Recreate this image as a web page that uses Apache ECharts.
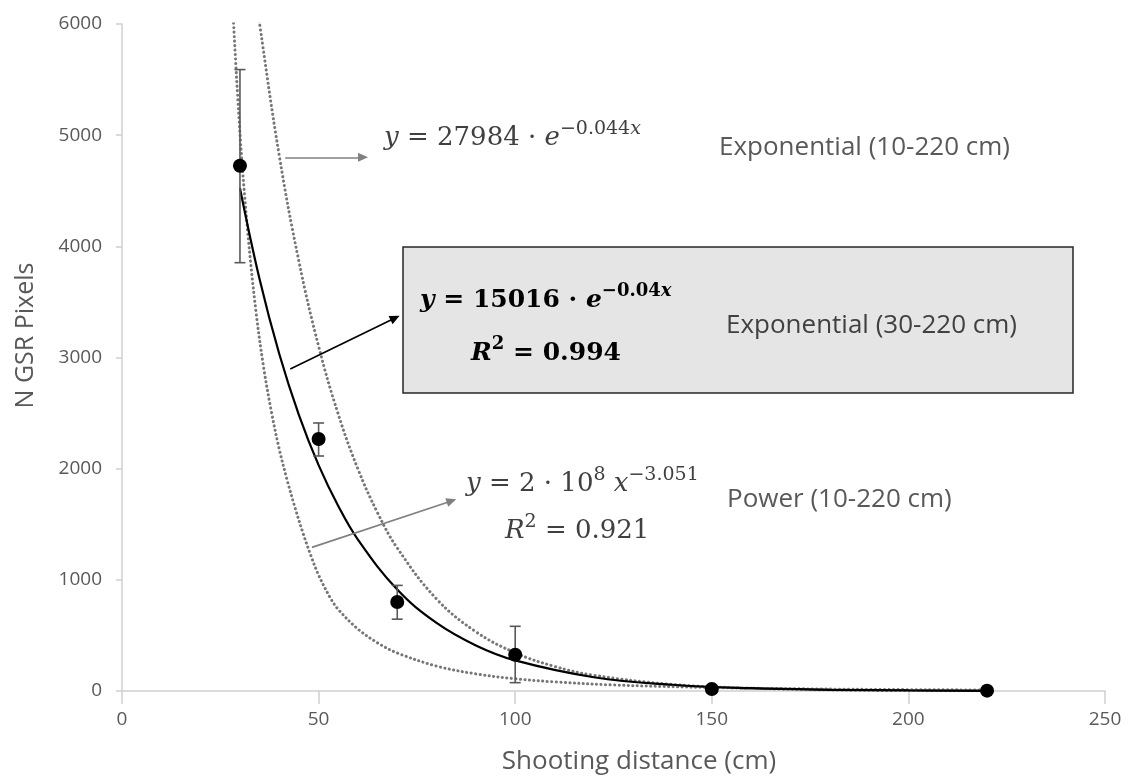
<!DOCTYPE html>
<html>
<head>
<meta charset="utf-8">
<script src="https://cdn.jsdelivr.net/npm/echarts@6/dist/echarts.min.js"></script>
<style>
html,body{margin:0;padding:0;background:#fff;}
#chart{width:1128px;height:776px;}
</style>
</head>
<body>
<div id="chart"></div>
<script>
// ---- data ----
const distances = [30, 50, 70, 100, 150, 220];
const gsrPixels = [4725, 2267, 800, 326, 18, 3];
const errLow    = [3853, 2114, 646, 75, 8, 0];
const errHigh   = [5590, 2411, 950, 582, 28, 8];

// solid trendline: exponential fit (30-220 cm)
const fit30X = [30, 35, 40, 45, 50, 55, 60, 70, 80, 90, 100, 120, 140, 160, 180, 200, 220];
const fit30Y = [4523, 3703, 3031, 2482, 2032, 1664, 1362, 913, 612, 410, 275, 124, 56, 25, 11, 5, 2];

// dotted trendline: exponential fit (10-220 cm)
const fit10X = [34, 35, 40, 45, 50, 55, 60, 65, 70, 80, 90, 100, 110, 120, 140, 160, 180, 200, 220];
const fit10Y = [6270, 6000, 4814, 3864, 3101, 2489, 1997, 1603, 1287, 828, 533, 344, 221, 142, 59, 25, 10, 4, 2];

// dotted trendline: power fit (10-220 cm)
const powX = [28, 30, 32, 34, 36, 38, 40, 42, 44, 46, 48, 50, 53, 55, 60, 65, 70, 80, 90, 100, 110, 125, 150, 180, 220];
const powY = [6250, 5016, 4119, 3434, 2915, 2511, 2175, 1897, 1650, 1424, 1221, 1043, 836, 734, 557, 433, 342, 224, 154, 110, 82, 54, 31, 17, 9];

// annotation arrows (data coordinates: start, end)
const arrowExp10 = [[41.5, 4801], [61.3, 4801]];
const arrowExp30 = [[42.8, 2896], [69.45, 3356]];
const arrowPow   = [[48.3, 1292], [83.8, 1710]];

const xTicks = {min: 0, max: 250, interval: 50};
const yTicks = {min: 0, max: 6000, interval: 1000};

// ---- build ----
const zip = (a, b) => a.map((v, i) => [v, b[i]]);
const pts = zip(distances, gsrPixels);
const errData = distances.map((x, i) => [x, errLow[i], errHigh[i]]);

const SERIF = "'DejaVu Serif', 'Liberation Serif', serif";
const SANS = "'Open Sans', 'Liberation Sans', sans-serif";

function mathRich(color, weight, base, sup) {
  const b = {fontFamily: SERIF, fontSize: base, lineHeight: 36, fill: color, color: color, fontWeight: weight};
  const s = {fontFamily: SERIF, fontSize: sup, lineHeight: 22, fill: color, color: color, fontWeight: weight, verticalAlign: 'top'};
  return {
    i: Object.assign({}, b, {fontStyle: 'italic'}),
    n: Object.assign({}, b),
    s: Object.assign({}, s),
    si: Object.assign({}, s, {fontStyle: 'italic'})
  };
}

const dotted = {color: '#767676', width: 3, type: [0.1, 4.4], cap: 'round'};

const chart = echarts.init(document.getElementById('chart'), null, {renderer: 'canvas'});
chart.setOption({
  animation: false,
  grid: {left: 122, right: 23, top: 24, bottom: 85, containLabel: false, outerBoundsMode: 'none'},
  xAxis: {
    type: 'value', min: xTicks.min, max: xTicks.max, interval: xTicks.interval,
    name: 'Shooting distance (cm)', nameLocation: 'middle', nameGap: 58,
    nameTextStyle: {fontFamily: SANS, fontSize: 26, color: '#595959', padding: [0, 0, 0, 51]},
    axisLine: {show: true, onZero: false, lineStyle: {color: '#d0d0d0', width: 1.5}},
    axisTick: {show: true, length: 13, lineStyle: {color: '#d0d0d0', width: 1.5}},
    axisLabel: {fontFamily: SANS, fontSize: 19, color: '#595959', margin: 19, formatter: v => String(v)},
    splitLine: {show: false}
  },
  yAxis: {
    type: 'value', min: yTicks.min, max: yTicks.max, interval: yTicks.interval,
    name: 'N GSR Pixels', nameLocation: 'middle', nameGap: 84,
    nameTextStyle: {fontFamily: SANS, fontSize: 25, color: '#595959', padding: [0, 0, 0, 44]},
    axisLine: {show: true, lineStyle: {color: '#d0d0d0', width: 1.5}},
    axisTick: {show: true, length: 6, lineStyle: {color: '#d0d0d0', width: 1.5}},
    axisLabel: {fontFamily: SANS, fontSize: 19, color: '#595959', margin: 20, formatter: v => String(v)},
    splitLine: {show: false}
  },
  series: [
    {
      name: 'Power (10-220 cm)', type: 'line', data: zip(powX, powY),
      showSymbol: false, smooth: 0.35, lineStyle: dotted, z: 2, silent: true
    },
    {
      name: 'Exponential (10-220 cm)', type: 'line', data: zip(fit10X, fit10Y),
      showSymbol: false, smooth: 0.4, lineStyle: dotted, z: 2, silent: true
    },
    {
      name: 'Exponential (30-220 cm)', type: 'line', data: zip(fit30X, fit30Y),
      showSymbol: false, smooth: 0.4,
      lineStyle: {color: '#000', width: 2.2}, z: 3, silent: true
    },
    {
      name: 'error', type: 'custom', data: errData, z: 4, silent: true,
      renderItem: function (params, api) {
        const x = api.value(0);
        const top = api.coord([x, api.value(2)]);
        const bot = api.coord([x, api.value(1)]);
        const w = 5.5;
        const st = {stroke: '#595959', lineWidth: 1.6};
        return {
          type: 'group',
          children: [
            {type: 'line', shape: {x1: top[0], y1: top[1], x2: bot[0], y2: bot[1]}, style: st},
            {type: 'line', shape: {x1: top[0] - w, y1: top[1], x2: top[0] + w, y2: top[1]}, style: st},
            {type: 'line', shape: {x1: bot[0] - w, y1: bot[1], x2: bot[0] + w, y2: bot[1]}, style: st}
          ]
        };
      }
    },
    {
      name: 'N GSR Pixels', type: 'scatter', data: pts, symbol: 'circle', symbolSize: 14,
      itemStyle: {color: '#000', opacity: 1}, z: 5, silent: true,
      markLine: {
        silent: true, animation: false,
        symbol: ['none', 'triangle'], symbolSize: [9, 10],
        label: {show: false},
        data: [
          [{coord: arrowExp10[0], lineStyle: {color: '#808080', width: 1.6, type: 'solid'}, itemStyle: {color: '#808080'}}, {coord: arrowExp10[1]}],
          [{coord: arrowExp30[0], lineStyle: {color: '#000', width: 1.6, type: 'solid'}, itemStyle: {color: '#000'}}, {coord: arrowExp30[1]}],
          [{coord: arrowPow[0], lineStyle: {color: '#808080', width: 1.6, type: 'solid'}, itemStyle: {color: '#808080'}}, {coord: arrowPow[1]}]
        ]
      }
    }
  ],
  graphic: [
    {
      type: 'rect', shape: {x: 403, y: 247, width: 670, height: 146}, z: 10,
      style: {fill: '#e5e5e5', stroke: '#262626', lineWidth: 1.5}
    },
    {
      type: 'text', x: 384, y: 120, z: 11,
      style: {text: '{i|y}{n| = 27984 · }{i|e}{s|−0.044}{si|x}', rich: mathRich('#404040', 'normal', 26, 19), align: 'left', verticalAlign: 'top'}
    },
    {
      type: 'text', x: 719, y: 148, z: 11,
      style: {text: 'Exponential (10-220 cm)', fontFamily: SANS, fontSize: 26, fill: '#595959', align: 'left', verticalAlign: 'middle'}
    },
    {
      type: 'text', x: 420, y: 282, z: 11,
      style: {text: '{i|y}{n| = 15016 · }{i|e}{s|−0.04}{si|x}', rich: mathRich('#000000', 'bold', 25, 18), align: 'left', verticalAlign: 'top'}
    },
    {
      type: 'text', x: 471, y: 335, z: 11,
      style: {text: '{i|R}{s|2}{n| = 0.994}', rich: mathRich('#000000', 'bold', 25, 18), align: 'left', verticalAlign: 'top'}
    },
    {
      type: 'text', x: 726, y: 326, z: 11,
      style: {text: 'Exponential (30-220 cm)', fontFamily: SANS, fontSize: 26, fill: '#404040', align: 'left', verticalAlign: 'middle'}
    },
    {
      type: 'text', x: 466, y: 466, z: 11,
      style: {text: '{i|y}{n| = 2 · 10}{s|8}{n| }{i|x}{s|−3.051}', rich: mathRich('#404040', 'normal', 26, 19), align: 'left', verticalAlign: 'top'}
    },
    {
      type: 'text', x: 505, y: 513, z: 11,
      style: {text: '{i|R}{s|2}{n| = 0.921}', rich: mathRich('#404040', 'normal', 26, 19), align: 'left', verticalAlign: 'top'}
    },
    {
      type: 'text', x: 727, y: 500, z: 11,
      style: {text: 'Power (10-220 cm)', fontFamily: SANS, fontSize: 26, fill: '#595959', align: 'left', verticalAlign: 'middle'}
    }
  ]
});
</script>
</body>
</html>
